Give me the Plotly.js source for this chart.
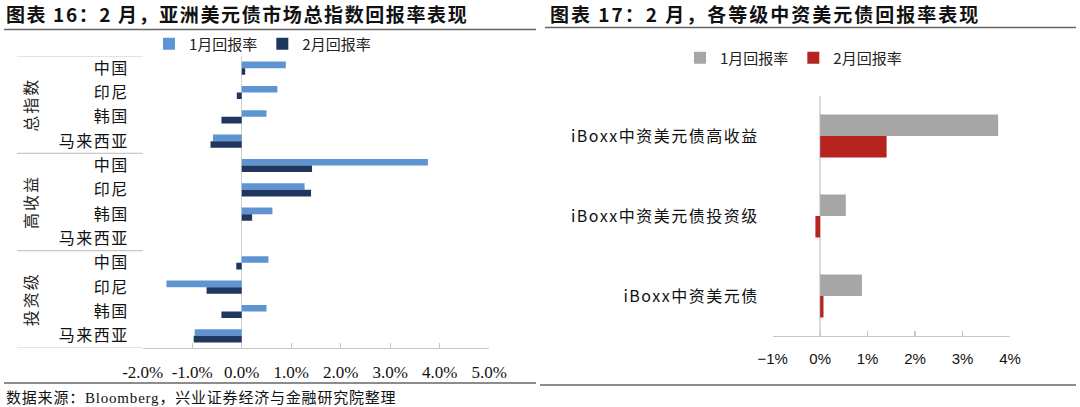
<!DOCTYPE html>
<html><head><meta charset="utf-8">
<script src="https://cdn.plot.ly/plotly-3.0.1.min.js"></script>
<style>html,body{margin:0;padding:0;background:#fff}#chart{width:1080px;height:407px}</style>
</head><body><div id="chart"></div>
<script>
// ---- Left chart data ----
const groups = ['总指数', '高收益', '投资级'];
const countries = ['中国', '印尼', '韩国', '马来西亚'];
const janLeft = [0.89, 0.72, 0.50, -0.58, 3.76, 1.27, 0.62, null, 0.54, -1.52, 0.50, -0.95];
const febLeft = [0.07, -0.10, -0.41, -0.63, 1.42, 1.40, 0.21, null, -0.11, -0.71, -0.41, -0.97];
const leftTickVals = [-2, -1, 0, 1, 2, 3, 4, 5];
const leftTickText = ['-2.0%', '-1.0%', '0.0%', '1.0%', '2.0%', '3.0%', '4.0%', '5.0%'];
// ---- Right chart data ----
const rightCats = ['iBoxx中资美元债高收益', 'iBoxx中资美元债投资级', 'iBoxx中资美元债'];
const janRight = [3.75, 0.54, 0.88];
const febRight = [1.40, -0.10, 0.07];
const rightTickVals = [-1, 0, 1, 2, 3, 4];
const rightTickText = ['\u22121%', '0%', '1%', '2%', '3%', '4%'];
const seriesNames = ['1月回报率', '2月回报率'];

const W = 1080, H = 407;
const px = v => v / W, py = v => 1 - v / H;
const sp = (s, n) => '<span style="letter-spacing:' + n + 'px">' + s + '</span>';

const leftLabels = [];
groups.forEach(() => countries.forEach(c => leftLabels.push(c)));
const leftIdx = leftLabels.map((_, i) => i);

const CJK = '"Noto Sans CJK SC", "Noto Sans", sans-serif';

const traces = [
  {type: 'bar', orientation: 'h', x: janLeft, y: leftIdx, name: seriesNames[0],
   marker: {color: '#5F94D3'}, xaxis: 'x', yaxis: 'y', legend: 'legend'},
  {type: 'bar', orientation: 'h', x: febLeft, y: leftIdx, name: seriesNames[1],
   marker: {color: '#1F365F'}, xaxis: 'x', yaxis: 'y', legend: 'legend'},
  {type: 'bar', orientation: 'h', x: janRight, y: rightCats, name: seriesNames[0],
   marker: {color: '#A6A6A6'}, xaxis: 'x2', yaxis: 'y2', legend: 'legend2'},
  {type: 'bar', orientation: 'h', x: febRight, y: rightCats, name: seriesNames[1],
   marker: {color: '#B5241F'}, xaxis: 'x2', yaxis: 'y2', legend: 'legend2'}
];

const shapes = [];
shapes.push({type: 'line', xref: 'paper', yref: 'paper', x0: px(4), x1: px(536), y0: py(29.5), y1: py(29.5), line: {color: '#666', width: 1.5}});
shapes.push({type: 'line', xref: 'paper', yref: 'paper', x0: px(545), x1: px(1076), y0: py(27.5), y1: py(27.5), line: {color: '#666', width: 1.5}});
shapes.push({type: 'line', xref: 'paper', yref: 'paper', x0: px(4), x1: px(536), y0: py(383), y1: py(383), line: {color: '#666', width: 1.5}});
shapes.push({type: 'line', xref: 'paper', yref: 'paper', x0: px(540), x1: px(1076), y0: py(385), y1: py(385), line: {color: '#666', width: 1.5}});
[-0.5, 3.5, 7.5, 11.5].forEach(v => {
  shapes.push({type: 'line', xref: 'paper', yref: 'y', x0: px(17), x1: px(142.7), y0: v, y1: v, line: {color: '#C8C8C8', width: 1.2}});
});

const annotations = [
  {text: '<b>' + sp('图表 16：2 月，亚洲美元债市场总指数回报率表现', 1.6) + '</b>', xref: 'paper', yref: 'paper', x: px(4), y: py(14), xanchor: 'left', yanchor: 'middle', showarrow: false, font: {family: CJK, size: 19, color: '#111'}},
  {text: '<b>' + sp('图表 17：2 月，各等级中资美元债回报率表现', 2.0) + '</b>', xref: 'paper', yref: 'paper', x: px(548), y: py(14), xanchor: 'left', yanchor: 'middle', showarrow: false, font: {family: CJK, size: 19, color: '#111'}},
  {text: sp('数据来源：Bloomberg，兴业证券经济与金融研究院整理', 0.8), xref: 'paper', yref: 'paper', x: px(4), y: py(397), xanchor: 'left', yanchor: 'middle', showarrow: false, font: {family: '"Liberation Serif", "Noto Sans CJK SC", serif', size: 15, color: '#111'}}
];
groups.forEach((g, i) => {
  annotations.push({text: sp(g, 2), xref: 'paper', yref: 'y', x: px(30), y: i * 4 + 1.5, textangle: -90, xanchor: 'center', yanchor: 'middle', showarrow: false, font: {family: CJK, size: 16, color: '#222'}});
});

const layout = {
  width: W, height: H,
  margin: {l: 0, r: 0, t: 0, b: 0},
  paper_bgcolor: '#fff', plot_bgcolor: 'rgba(0,0,0,0)',
  barmode: 'group', bargap: 0.46, bargroupgap: 0,
  showlegend: true,
  font: {family: CJK, color: '#222'},
  xaxis: {domain: [px(142.7), px(489.3)], range: [-2, 5], anchor: 'y',
    tickvals: leftTickVals, ticktext: leftTickText, showgrid: false,
    zeroline: true, zerolinecolor: '#D0D0D0', zerolinewidth: 1,
    showline: true, linecolor: '#C8C8C8', linewidth: 1.2,
    ticks: 'inside', ticklen: 5, tickcolor: '#C8C8C8', tickwidth: 1.2,
    ticklabelstandoff: 8,
    tickfont: {family: '"Liberation Serif", serif', size: 17, color: '#111'}, fixedrange: true},
  yaxis: {domain: [py(348), py(56)], range: [11.5, -0.5], anchor: 'x',
    tickvals: leftIdx, ticktext: leftLabels.map(s => sp(s, 1.5)), showgrid: false, zeroline: false,
    showline: false, ticks: '', ticklabelstandoff: 13,
    tickfont: {family: CJK, size: 16, color: '#111'}, fixedrange: true},
  xaxis2: {domain: [px(772.7), px(1010)], range: [-1, 4], anchor: 'y2',
    tickvals: rightTickVals, ticktext: rightTickText, showgrid: false,
    zeroline: true, zerolinecolor: '#D9D9D9', zerolinewidth: 1.5,
    showline: true, linecolor: '#C8C8C8', linewidth: 1.2,
    ticks: 'inside', ticklen: 5, tickcolor: '#C8C8C8', tickwidth: 1.2,
    ticklabelstandoff: 9,
    tickfont: {family: '"Liberation Sans", Arial, sans-serif', size: 15, color: '#111'}, fixedrange: true},
  yaxis2: {domain: [py(336), py(96)], autorange: 'reversed', anchor: 'x2',
    type: 'category', showgrid: false, zeroline: false, showline: false, ticks: '',
    ticklabelstandoff: 13, tickvals: rightCats, ticktext: rightCats.map(s => sp(s, 1.5)),
    tickfont: {family: CJK, size: 16, color: '#111'}, fixedrange: true},
  legend: {orientation: 'h', x: px(149), y: py(44), xanchor: 'left', yanchor: 'middle',
    font: {family: CJK, size: 15, color: '#222'}, itemwidth: 30, bgcolor: 'rgba(0,0,0,0)'},
  legend2: {orientation: 'h', x: px(680), y: py(58), xanchor: 'left', yanchor: 'middle',
    font: {family: CJK, size: 15, color: '#222'}, itemwidth: 30, bgcolor: 'rgba(0,0,0,0)'},
  shapes: shapes,
  annotations: annotations
};

Plotly.newPlot('chart', traces, layout, {displayModeBar: false, staticPlot: true});
</script></body></html>
